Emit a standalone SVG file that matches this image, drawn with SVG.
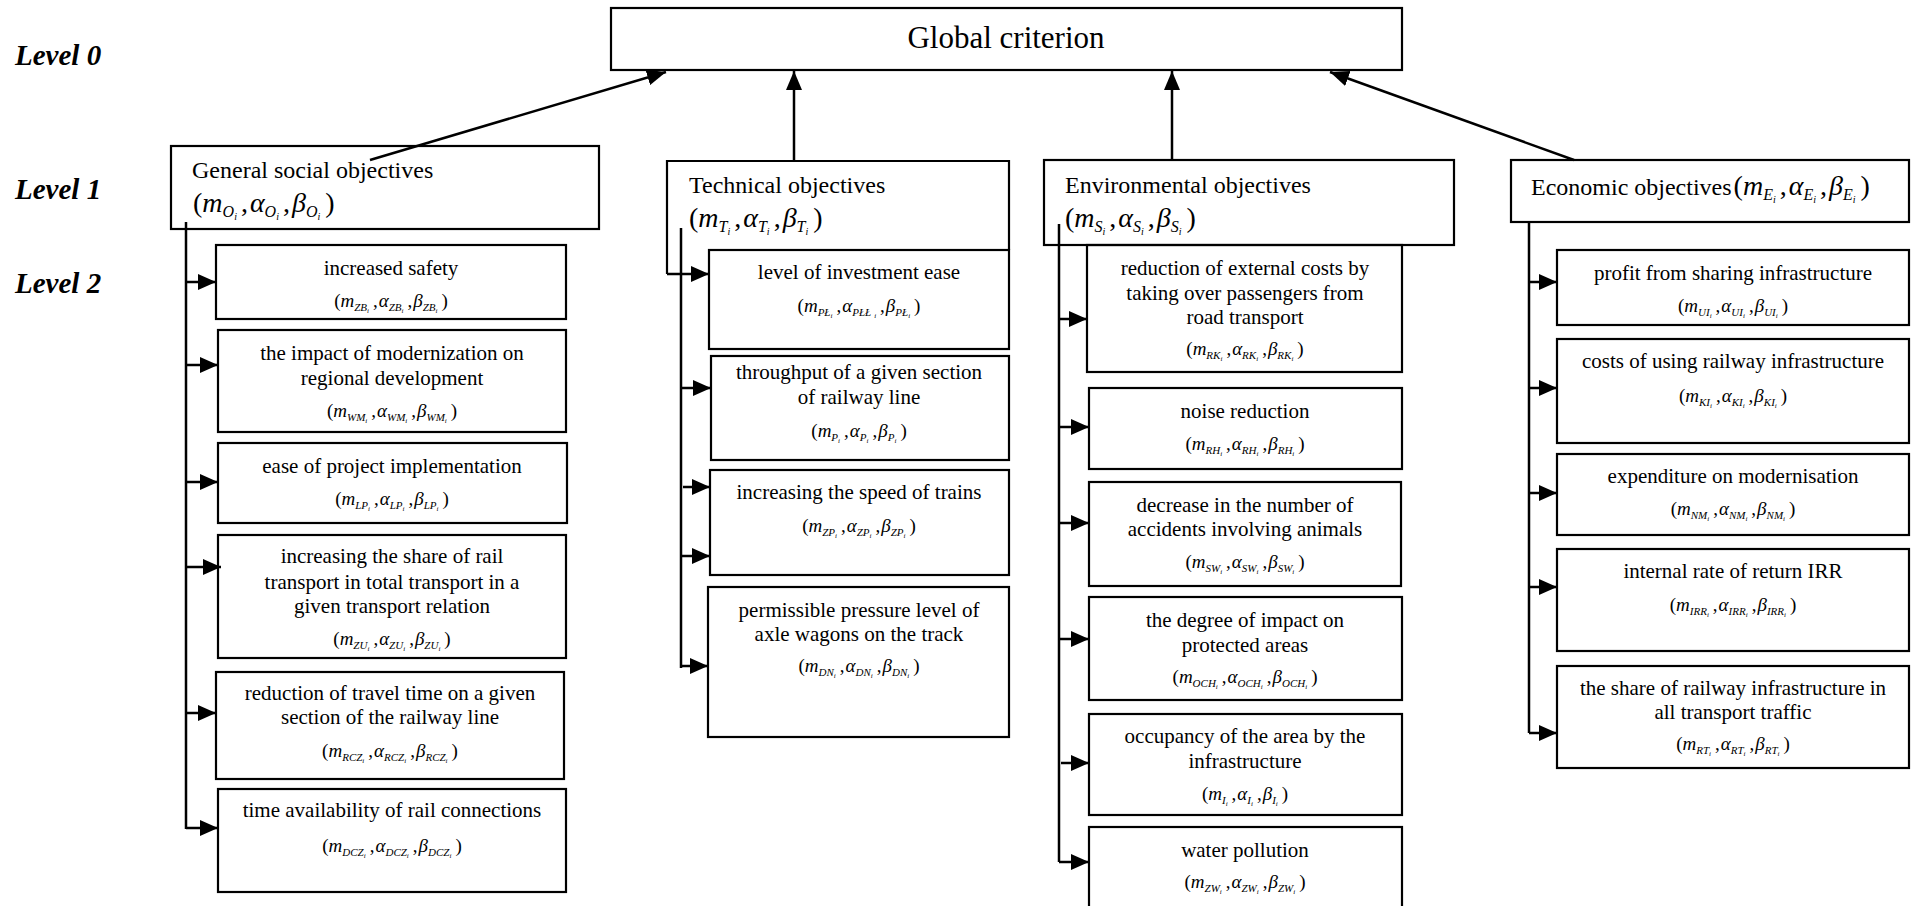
<svg xmlns="http://www.w3.org/2000/svg" width="1915" height="906" viewBox="0 0 1915 906">
<style>
text{font-family:"Liberation Serif","Times New Roman",serif;fill:#000}
.lvl{font-size:29px;font-weight:bold;font-style:italic}
.gc{font-size:31px;text-anchor:middle}
.h1{font-size:24px}
.t{font-size:21px;text-anchor:middle}
.f{font-size:19px;text-anchor:middle}
.F{font-size:28px}
.m{font-style:italic}
.s{font-size:11px;font-style:italic}
.ss{font-size:7px;font-style:italic}
.S{font-size:16px;font-style:italic}
.SS{font-size:10px;font-style:italic}
.box{fill:none;stroke:#000;stroke-width:2.2}
.con{fill:none;stroke:#000;stroke-width:2.5}
.ar{marker-end:url(#ah)}
.up{marker-end:url(#ahL)}
</style>
<defs>
<marker id="ah" viewBox="0 0 18 16" markerWidth="18" markerHeight="16" refX="18" refY="8" orient="auto" markerUnits="userSpaceOnUse"><path d="M0,0 L18,8 L0,16 Z" fill="#000"/></marker>
<marker id="ahL" viewBox="0 0 19 16" markerWidth="19" markerHeight="16" refX="19" refY="8" orient="auto" markerUnits="userSpaceOnUse"><path d="M0,0 L19,8 L0,16 Z" fill="#000"/></marker>
</defs>
<rect width="1915" height="906" fill="#fff"/>

<g id="levels">
<text class="lvl" x="15" y="65">Level 0</text>
<text class="lvl" x="15" y="199">Level 1</text>
<text class="lvl" x="15" y="293">Level 2</text>
</g>

<g id="global">
<rect class="box" x="611" y="8" width="791" height="62"/>
<text class="gc" x="1006" y="48">Global criterion</text>
</g>

<g id="social">
<rect class="box" x="171" y="146" width="428" height="83"/>
<text class="h1" x="192" y="178">General social objectives</text>
<text class="F" x="193" y="212">(<tspan class="m">m</tspan><tspan class="S" dy="5">O</tspan><tspan class="SS" dy="3">i</tspan><tspan dy="-8" dx="4">,</tspan><tspan class="m" dx="2">α</tspan><tspan class="S" dy="5">O</tspan><tspan class="SS" dy="3">i</tspan><tspan dy="-8" dx="4">,</tspan><tspan class="m" dx="2">β</tspan><tspan class="S" dy="5">O</tspan><tspan class="SS" dy="3">i</tspan><tspan dy="-8" dx="5">)</tspan></text>
</g>

<g id="technical">
<path class="box" d="M667,274 L667,161 L1009,161 L1009,250"/>
<text class="h1" x="689" y="193">Technical objectives</text>
<text class="F" x="689" y="227">(<tspan class="m">m</tspan><tspan class="S" dy="5">T</tspan><tspan class="SS" dy="3">i</tspan><tspan dy="-8" dx="4">,</tspan><tspan class="m" dx="2">α</tspan><tspan class="S" dy="5">T</tspan><tspan class="SS" dy="3">i</tspan><tspan dy="-8" dx="4">,</tspan><tspan class="m" dx="2">β</tspan><tspan class="S" dy="5">T</tspan><tspan class="SS" dy="3">i</tspan><tspan dy="-8" dx="5">)</tspan></text>
</g>

<g id="environmental">
<rect class="box" x="1044" y="160" width="410" height="85"/>
<text class="h1" x="1065" y="193">Environmental objectives</text>
<text class="F" x="1065" y="227">(<tspan class="m">m</tspan><tspan class="S" dy="5">S</tspan><tspan class="SS" dy="3">i</tspan><tspan dy="-8" dx="4">,</tspan><tspan class="m" dx="2">α</tspan><tspan class="S" dy="5">S</tspan><tspan class="SS" dy="3">i</tspan><tspan dy="-8" dx="4">,</tspan><tspan class="m" dx="2">β</tspan><tspan class="S" dy="5">S</tspan><tspan class="SS" dy="3">i</tspan><tspan dy="-8" dx="5">)</tspan></text>
</g>

<g id="economic">
<rect class="box" x="1511" y="160" width="398" height="62"/>
<text class="h1" x="1531" y="195">Economic objectives<tspan class="F" dx="2">(</tspan><tspan class="F m">m</tspan><tspan class="S" dy="5">E</tspan><tspan class="SS" dy="3">i</tspan><tspan class="F" dy="-8" dx="4">,</tspan><tspan class="F m" dx="2">α</tspan><tspan class="S" dy="5">E</tspan><tspan class="SS" dy="3">i</tspan><tspan class="F" dy="-8" dx="4">,</tspan><tspan class="F m" dx="2">β</tspan><tspan class="S" dy="5">E</tspan><tspan class="SS" dy="3">i</tspan><tspan class="F" dy="-8" dx="5">)</tspan></text>
</g>

<!-- Social children -->
<g id="s1">
<rect class="box" x="216" y="245" width="350" height="74"/>
<text class="t" x="391" y="275">increased safety</text>
<text class="f" x="391" y="307">(<tspan class="m">m</tspan><tspan class="s" dy="4">ZB</tspan><tspan class="ss" dy="2">i</tspan><tspan dy="-6" dx="4">,</tspan><tspan class="m" dx="1">α</tspan><tspan class="s" dy="4">ZB</tspan><tspan class="ss" dy="2">i</tspan><tspan dy="-6" dx="4">,</tspan><tspan class="m" dx="1">β</tspan><tspan class="s" dy="4">ZB</tspan><tspan class="ss" dy="2">i</tspan><tspan dy="-6" dx="4">)</tspan></text>
</g>
<g id="s2">
<rect class="box" x="218" y="330" width="348" height="102"/>
<text class="t" x="392" y="360">the impact of modernization on</text>
<text class="t" x="392" y="385">regional development</text>
<text class="f" x="392" y="417">(<tspan class="m">m</tspan><tspan class="s" dy="4">WM</tspan><tspan class="ss" dy="2">i</tspan><tspan dy="-6" dx="4">,</tspan><tspan class="m" dx="1">α</tspan><tspan class="s" dy="4">WM</tspan><tspan class="ss" dy="2">i</tspan><tspan dy="-6" dx="4">,</tspan><tspan class="m" dx="1">β</tspan><tspan class="s" dy="4">WM</tspan><tspan class="ss" dy="2">i</tspan><tspan dy="-6" dx="4">)</tspan></text>
</g>
<g id="s3">
<rect class="box" x="218" y="443" width="349" height="80"/>
<text class="t" x="392" y="473">ease of project implementation</text>
<text class="f" x="392" y="505">(<tspan class="m">m</tspan><tspan class="s" dy="4">LP</tspan><tspan class="ss" dy="2">i</tspan><tspan dy="-6" dx="4">,</tspan><tspan class="m" dx="1">α</tspan><tspan class="s" dy="4">LP</tspan><tspan class="ss" dy="2">i</tspan><tspan dy="-6" dx="4">,</tspan><tspan class="m" dx="1">β</tspan><tspan class="s" dy="4">LP</tspan><tspan class="ss" dy="2">i</tspan><tspan dy="-6" dx="4">)</tspan></text>
</g>
<g id="s4">
<rect class="box" x="218" y="535" width="348" height="123"/>
<text class="t" x="392" y="563">increasing the share of rail</text>
<text class="t" x="392" y="589">transport in total transport in a</text>
<text class="t" x="392" y="613">given transport relation</text>
<text class="f" x="392" y="645">(<tspan class="m">m</tspan><tspan class="s" dy="4">ZU</tspan><tspan class="ss" dy="2">i</tspan><tspan dy="-6" dx="4">,</tspan><tspan class="m" dx="1">α</tspan><tspan class="s" dy="4">ZU</tspan><tspan class="ss" dy="2">i</tspan><tspan dy="-6" dx="4">,</tspan><tspan class="m" dx="1">β</tspan><tspan class="s" dy="4">ZU</tspan><tspan class="ss" dy="2">i</tspan><tspan dy="-6" dx="4">)</tspan></text>
</g>
<g id="s5">
<rect class="box" x="216" y="672" width="348" height="107"/>
<text class="t" x="390" y="700">reduction of travel time on a given</text>
<text class="t" x="390" y="724">section of the railway line</text>
<text class="f" x="390" y="757">(<tspan class="m">m</tspan><tspan class="s" dy="4">RCZ</tspan><tspan class="ss" dy="2">i</tspan><tspan dy="-6" dx="4">,</tspan><tspan class="m" dx="1">α</tspan><tspan class="s" dy="4">RCZ</tspan><tspan class="ss" dy="2">i</tspan><tspan dy="-6" dx="4">,</tspan><tspan class="m" dx="1">β</tspan><tspan class="s" dy="4">RCZ</tspan><tspan class="ss" dy="2">i</tspan><tspan dy="-6" dx="4">)</tspan></text>
</g>
<g id="s6">
<rect class="box" x="218" y="789" width="348" height="103"/>
<text class="t" x="392" y="817">time availability of rail connections</text>
<text class="f" x="392" y="852">(<tspan class="m">m</tspan><tspan class="s" dy="4">DCZ</tspan><tspan class="ss" dy="2">i</tspan><tspan dy="-6" dx="4">,</tspan><tspan class="m" dx="1">α</tspan><tspan class="s" dy="4">DCZ</tspan><tspan class="ss" dy="2">i</tspan><tspan dy="-6" dx="4">,</tspan><tspan class="m" dx="1">β</tspan><tspan class="s" dy="4">DCZ</tspan><tspan class="ss" dy="2">i</tspan><tspan dy="-6" dx="4">)</tspan></text>
</g>

<!-- Technical children -->
<g id="t1">
<rect class="box" x="709" y="250" width="300" height="99"/>
<text class="t" x="859" y="279">level of investment ease</text>
<text class="f" x="859" y="312">(<tspan class="m">m</tspan><tspan class="s" dy="4">PŁ</tspan><tspan class="ss" dy="2">i</tspan><tspan dy="-6" dx="4">,</tspan><tspan class="m" dx="1">α</tspan><tspan class="s" dy="4">PŁŁ</tspan><tspan class="ss" dy="2" dx="3">i</tspan><tspan dy="-6" dx="4">,</tspan><tspan class="m" dx="1">β</tspan><tspan class="s" dy="4">PŁ</tspan><tspan class="ss" dy="2">i</tspan><tspan dy="-6" dx="4">)</tspan></text>
</g>
<g id="t2">
<rect class="box" x="711" y="356" width="298" height="104"/>
<text class="t" x="859" y="379">throughput of a given section</text>
<text class="t" x="859" y="404">of railway line</text>
<text class="f" x="859" y="437">(<tspan class="m">m</tspan><tspan class="s" dy="4">P</tspan><tspan class="ss" dy="2">i</tspan><tspan dy="-6" dx="4">,</tspan><tspan class="m" dx="1">α</tspan><tspan class="s" dy="4">P</tspan><tspan class="ss" dy="2">i</tspan><tspan dy="-6" dx="4">,</tspan><tspan class="m" dx="1">β</tspan><tspan class="s" dy="4">P</tspan><tspan class="ss" dy="2">i</tspan><tspan dy="-6" dx="4">)</tspan></text>
</g>
<g id="t3">
<rect class="box" x="710" y="470" width="299" height="105"/>
<text class="t" x="859" y="499">increasing the speed of trains</text>
<text class="f" x="859" y="532">(<tspan class="m">m</tspan><tspan class="s" dy="4">ZP</tspan><tspan class="ss" dy="2">i</tspan><tspan dy="-6" dx="4">,</tspan><tspan class="m" dx="1">α</tspan><tspan class="s" dy="4">ZP</tspan><tspan class="ss" dy="2">i</tspan><tspan dy="-6" dx="4">,</tspan><tspan class="m" dx="1">β</tspan><tspan class="s" dy="4">ZP</tspan><tspan class="ss" dy="2">i</tspan><tspan dy="-6" dx="4">)</tspan></text>
</g>
<g id="t4">
<rect class="box" x="708" y="587" width="301" height="150"/>
<text class="t" x="859" y="617">permissible pressure level of</text>
<text class="t" x="859" y="641">axle wagons on the track</text>
<text class="f" x="859" y="672">(<tspan class="m">m</tspan><tspan class="s" dy="4">DN</tspan><tspan class="ss" dy="2">i</tspan><tspan dy="-6" dx="4">,</tspan><tspan class="m" dx="1">α</tspan><tspan class="s" dy="4">DN</tspan><tspan class="ss" dy="2">i</tspan><tspan dy="-6" dx="4">,</tspan><tspan class="m" dx="1">β</tspan><tspan class="s" dy="4">DN</tspan><tspan class="ss" dy="2">i</tspan><tspan dy="-6" dx="4">)</tspan></text>
</g>

<!-- Environmental children -->
<g id="e1">
<rect class="box" x="1087" y="245" width="315" height="127"/>
<text class="t" x="1245" y="275">reduction of external costs by</text>
<text class="t" x="1245" y="300">taking over passengers from</text>
<text class="t" x="1245" y="324">road transport</text>
<text class="f" x="1245" y="355">(<tspan class="m">m</tspan><tspan class="s" dy="4">RK</tspan><tspan class="ss" dy="2">i</tspan><tspan dy="-6" dx="4">,</tspan><tspan class="m" dx="1">α</tspan><tspan class="s" dy="4">RK</tspan><tspan class="ss" dy="2">i</tspan><tspan dy="-6" dx="4">,</tspan><tspan class="m" dx="1">β</tspan><tspan class="s" dy="4">RK</tspan><tspan class="ss" dy="2">i</tspan><tspan dy="-6" dx="4">)</tspan></text>
</g>
<g id="e2">
<rect class="box" x="1089" y="388" width="313" height="81"/>
<text class="t" x="1245" y="418">noise reduction</text>
<text class="f" x="1245" y="450">(<tspan class="m">m</tspan><tspan class="s" dy="4">RH</tspan><tspan class="ss" dy="2">i</tspan><tspan dy="-6" dx="4">,</tspan><tspan class="m" dx="1">α</tspan><tspan class="s" dy="4">RH</tspan><tspan class="ss" dy="2">i</tspan><tspan dy="-6" dx="4">,</tspan><tspan class="m" dx="1">β</tspan><tspan class="s" dy="4">RH</tspan><tspan class="ss" dy="2">i</tspan><tspan dy="-6" dx="4">)</tspan></text>
</g>
<g id="e3">
<rect class="box" x="1089" y="482" width="312" height="104"/>
<text class="t" x="1245" y="512">decrease in the number of</text>
<text class="t" x="1245" y="536">accidents involving animals</text>
<text class="f" x="1245" y="568">(<tspan class="m">m</tspan><tspan class="s" dy="4">SW</tspan><tspan class="ss" dy="2">i</tspan><tspan dy="-6" dx="4">,</tspan><tspan class="m" dx="1">α</tspan><tspan class="s" dy="4">SW</tspan><tspan class="ss" dy="2">i</tspan><tspan dy="-6" dx="4">,</tspan><tspan class="m" dx="1">β</tspan><tspan class="s" dy="4">SW</tspan><tspan class="ss" dy="2">i</tspan><tspan dy="-6" dx="4">)</tspan></text>
</g>
<g id="e4">
<rect class="box" x="1089" y="597" width="313" height="103"/>
<text class="t" x="1245" y="627">the degree of impact on</text>
<text class="t" x="1245" y="652">protected areas</text>
<text class="f" x="1245" y="683">(<tspan class="m">m</tspan><tspan class="s" dy="4">OCH</tspan><tspan class="ss" dy="2">i</tspan><tspan dy="-6" dx="4">,</tspan><tspan class="m" dx="1">α</tspan><tspan class="s" dy="4">OCH</tspan><tspan class="ss" dy="2">i</tspan><tspan dy="-6" dx="4">,</tspan><tspan class="m" dx="1">β</tspan><tspan class="s" dy="4">OCH</tspan><tspan class="ss" dy="2">i</tspan><tspan dy="-6" dx="4">)</tspan></text>
</g>
<g id="e5">
<rect class="box" x="1089" y="714" width="313" height="101"/>
<text class="t" x="1245" y="743">occupancy of the area by the</text>
<text class="t" x="1245" y="768">infrastructure</text>
<text class="f" x="1245" y="800">(<tspan class="m">m</tspan><tspan class="s" dy="4">I</tspan><tspan class="ss" dy="2">i</tspan><tspan dy="-6" dx="4">,</tspan><tspan class="m" dx="1">α</tspan><tspan class="s" dy="4">I</tspan><tspan class="ss" dy="2">i</tspan><tspan dy="-6" dx="4">,</tspan><tspan class="m" dx="1">β</tspan><tspan class="s" dy="4">I</tspan><tspan class="ss" dy="2">i</tspan><tspan dy="-6" dx="4">)</tspan></text>
</g>
<g id="e6">
<rect class="box" x="1089" y="827" width="313" height="95"/>
<text class="t" x="1245" y="857">water pollution</text>
<text class="f" x="1245" y="888">(<tspan class="m">m</tspan><tspan class="s" dy="4">ZW</tspan><tspan class="ss" dy="2">i</tspan><tspan dy="-6" dx="4">,</tspan><tspan class="m" dx="1">α</tspan><tspan class="s" dy="4">ZW</tspan><tspan class="ss" dy="2">i</tspan><tspan dy="-6" dx="4">,</tspan><tspan class="m" dx="1">β</tspan><tspan class="s" dy="4">ZW</tspan><tspan class="ss" dy="2">i</tspan><tspan dy="-6" dx="4">)</tspan></text>
</g>

<!-- Economic children -->
<g id="c1">
<rect class="box" x="1557" y="250" width="352" height="75"/>
<text class="t" x="1733" y="280">profit from sharing infrastructure</text>
<text class="f" x="1733" y="312">(<tspan class="m">m</tspan><tspan class="s" dy="4">UI</tspan><tspan class="ss" dy="2">i</tspan><tspan dy="-6" dx="4">,</tspan><tspan class="m" dx="1">α</tspan><tspan class="s" dy="4">UI</tspan><tspan class="ss" dy="2">i</tspan><tspan dy="-6" dx="4">,</tspan><tspan class="m" dx="1">β</tspan><tspan class="s" dy="4">UI</tspan><tspan class="ss" dy="2">i</tspan><tspan dy="-6" dx="4">)</tspan></text>
</g>
<g id="c2">
<rect class="box" x="1557" y="339" width="352" height="104"/>
<text class="t" x="1733" y="368">costs of using railway infrastructure</text>
<text class="f" x="1733" y="402">(<tspan class="m">m</tspan><tspan class="s" dy="4">KI</tspan><tspan class="ss" dy="2">i</tspan><tspan dy="-6" dx="4">,</tspan><tspan class="m" dx="1">α</tspan><tspan class="s" dy="4">KI</tspan><tspan class="ss" dy="2">i</tspan><tspan dy="-6" dx="4">,</tspan><tspan class="m" dx="1">β</tspan><tspan class="s" dy="4">KI</tspan><tspan class="ss" dy="2">i</tspan><tspan dy="-6" dx="4">)</tspan></text>
</g>
<g id="c3">
<rect class="box" x="1557" y="454" width="352" height="81"/>
<text class="t" x="1733" y="483">expenditure on modernisation</text>
<text class="f" x="1733" y="515">(<tspan class="m">m</tspan><tspan class="s" dy="4">NM</tspan><tspan class="ss" dy="2">i</tspan><tspan dy="-6" dx="4">,</tspan><tspan class="m" dx="1">α</tspan><tspan class="s" dy="4">NM</tspan><tspan class="ss" dy="2">i</tspan><tspan dy="-6" dx="4">,</tspan><tspan class="m" dx="1">β</tspan><tspan class="s" dy="4">NM</tspan><tspan class="ss" dy="2">i</tspan><tspan dy="-6" dx="4">)</tspan></text>
</g>
<g id="c4">
<rect class="box" x="1557" y="549" width="352" height="102"/>
<text class="t" x="1733" y="578">internal rate of return IRR</text>
<text class="f" x="1733" y="611">(<tspan class="m">m</tspan><tspan class="s" dy="4">IRR</tspan><tspan class="ss" dy="2">i</tspan><tspan dy="-6" dx="4">,</tspan><tspan class="m" dx="1">α</tspan><tspan class="s" dy="4">IRR</tspan><tspan class="ss" dy="2">i</tspan><tspan dy="-6" dx="4">,</tspan><tspan class="m" dx="1">β</tspan><tspan class="s" dy="4">IRR</tspan><tspan class="ss" dy="2">i</tspan><tspan dy="-6" dx="4">)</tspan></text>
</g>
<g id="c5">
<rect class="box" x="1557" y="666" width="352" height="102"/>
<text class="t" x="1733" y="695">the share of railway infrastructure in</text>
<text class="t" x="1733" y="719">all transport traffic</text>
<text class="f" x="1733" y="750">(<tspan class="m">m</tspan><tspan class="s" dy="4">RT</tspan><tspan class="ss" dy="2">i</tspan><tspan dy="-6" dx="4">,</tspan><tspan class="m" dx="1">α</tspan><tspan class="s" dy="4">RT</tspan><tspan class="ss" dy="2">i</tspan><tspan dy="-6" dx="4">,</tspan><tspan class="m" dx="1">β</tspan><tspan class="s" dy="4">RT</tspan><tspan class="ss" dy="2">i</tspan><tspan dy="-6" dx="4">)</tspan></text>
</g>

<g id="connectors">
<path class="con up" d="M370,160 L666,72"/>
<path class="con up" d="M794,160 L794,71"/>
<path class="con up" d="M1172,160 L1172,71"/>
<path class="con up" d="M1574,160 L1330,72"/>

<path class="con" d="M186,222 L186,829"/>
<path class="con ar" d="M186,282 L216,282"/>
<path class="con ar" d="M186,365 L218,365"/>
<path class="con ar" d="M186,482 L218,482"/>
<path class="con ar" d="M186,567 L221,567"/>
<path class="con ar" d="M186,713 L216,713"/>
<path class="con ar" d="M186,828 L218,828"/>

<path class="con" d="M681,228 L681,668"/>
<path class="con ar" d="M667,274 L709,274"/>
<path class="con ar" d="M681,388 L711,388"/>
<path class="con ar" d="M683,487 L710,487"/>
<path class="con ar" d="M681,556 L710,556"/>
<path class="con ar" d="M681,666 L708,666"/>

<path class="con" d="M1059,224 L1059,862"/>
<path class="con ar" d="M1059,319 L1087,319"/>
<path class="con ar" d="M1059,427 L1089,427"/>
<path class="con ar" d="M1059,523 L1089,523"/>
<path class="con ar" d="M1059,639 L1089,639"/>
<path class="con ar" d="M1061,763 L1089,763"/>
<path class="con ar" d="M1059,862 L1089,862"/>

<path class="con" d="M1529,222 L1529,733"/>
<path class="con ar" d="M1529,282 L1557,282"/>
<path class="con ar" d="M1529,388 L1557,388"/>
<path class="con ar" d="M1529,493 L1557,493"/>
<path class="con ar" d="M1529,587 L1557,587"/>
<path class="con ar" d="M1529,733 L1557,733"/>
</g>
</svg>
